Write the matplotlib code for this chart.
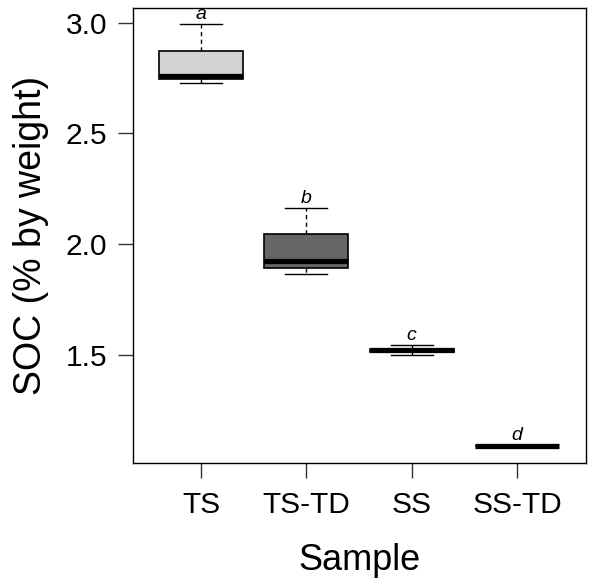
"""
SOC boxplot by sample type
"""
import matplotlib
matplotlib.use("Agg")
import matplotlib.pyplot as plt

plt.rcParams['font.family'] = ['Liberation Sans', 'DejaVu Sans']

# summary values
samples = ['TS', 'TS-TD', 'SS', 'SS-TD']
whis_lo = [2.729, 1.863, 1.497, 1.086]
q1 = [2.744, 1.890, 1.510, 1.087]
medians = [2.757, 1.923, 1.519, 1.088]
q3 = [2.873, 2.045, 1.528, 1.089]
whis_hi = [2.992, 2.163, 1.542, 1.090]
letters = ['a', 'b', 'c', 'd']
box_colors = ['#d3d3d3', '#666666', '#999999', '#333333']

yticks = [1.5, 2.0, 2.5, 3.0]

stats = []
for i, name in enumerate(samples):
    stats.append({'label': name, 'med': medians[i], 'q1': q1[i], 'q3': q3[i],
                  'whislo': whis_lo[i], 'whishi': whis_hi[i], 'fliers': []})

fig = plt.figure(figsize=(5.89, 5.82), dpi=100)
ax = fig.add_axes([0.2258, 0.205, 0.9949 - 0.2258, 0.9857 - 0.205])

positions = list(range(1, len(samples) + 1))
bp = ax.bxp(stats, positions=positions, widths=0.8, capwidths=0.4,
            patch_artist=True, showfliers=False,
            boxprops=dict(edgecolor='black', linewidth=1.2),
            whiskerprops=dict(color='black', linewidth=1.0, linestyle=(0, (3, 2.5))),
            capprops=dict(color='black', linewidth=1.0),
            medianprops=dict(color='black', linewidth=3.8, solid_capstyle='butt'))

for patch, c in zip(bp['boxes'], box_colors):
    patch.set_facecolor(c)

for x, top, lab in zip(positions, whis_hi, letters):
    ax.annotate(lab, (x, top), xytext=(0, 1), textcoords='offset points',
                ha='center', va='bottom', fontsize=14, style='italic')

ax.set_xlim(0.355, 4.655)
ax.set_ylim(1.0122, 3.0646)
ax.set_yticks(yticks)
ax.set_yticklabels([f'{v:.1f}' for v in yticks])
ax.set_xticks(positions)
ax.set_xticklabels(samples)

ax.tick_params(axis='both', length=10.5, width=1.0, color='#333333',
               labelsize=21.5)
ax.tick_params(axis='x', pad=10)
ax.tick_params(axis='y', pad=8)
for s in ax.spines.values():
    s.set_linewidth(1.0)

ax.set_xlabel('Sample', fontsize=26, labelpad=17)
ax.set_ylabel('SOC (% by weight)', fontsize=27, labelpad=12)

fig.savefig('out.png', dpi=100)
